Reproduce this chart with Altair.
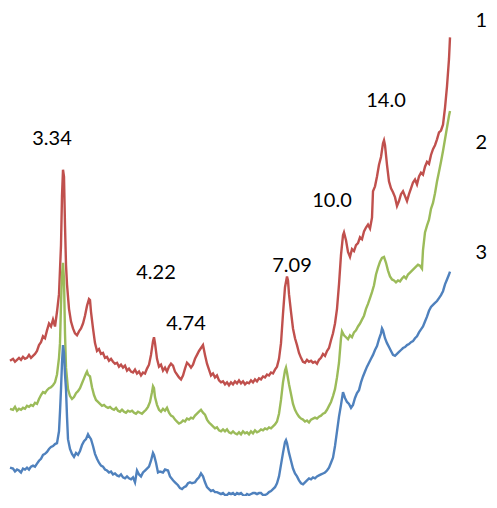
import altair as alt
import pandas as pd

# Pattern 1 (red)
red_x = [10, 13, 15, 17, 19, 21, 23, 25, 27, 29, 31, 33, 35, 37, 39, 41, 43, 45, 47, 49, 51, 53, 55, 57, 59, 61, 62, 63, 64, 65, 66, 67, 69, 71, 73, 75, 77, 79, 81, 83, 85, 87, 89, 90, 91, 93, 95, 97, 99, 101, 103, 105, 107, 109, 111, 113, 115, 117, 119, 121, 123, 125, 127, 129, 131, 133, 135, 137, 139, 141, 143, 145, 147, 149, 151, 153, 154, 155, 157, 159, 161, 163, 165, 167, 169, 171, 173, 175, 177, 179, 181, 183, 185, 187, 189, 191, 193, 195, 197, 199, 201, 203, 205, 207, 209, 211, 213, 215, 217, 219, 221, 223, 225, 227, 229, 231, 233, 235, 237, 239, 241, 243, 245, 247, 249, 251, 253, 255, 257, 259, 261, 263, 265, 267, 269, 271, 273, 275, 277, 279, 281, 283, 285, 287, 288, 289, 291, 293, 295, 297, 299, 301, 303, 305, 307, 309, 311, 313, 315, 317, 319, 321, 323, 325, 327, 329, 331, 333, 335, 337, 339, 341, 343, 344, 346, 348, 350, 352, 354, 356, 358, 360, 362, 364, 366, 368, 370, 372, 373, 375, 377, 379, 381, 383, 384, 385, 387, 389, 391, 393, 395, 397, 399, 401, 403, 405, 407, 409, 411, 413, 415, 417, 419, 421, 423, 425, 427, 429, 431, 433, 435, 437, 439, 441, 443, 445, 447, 449, 450]
red_y = [132, 134, 131, 133, 135, 133, 136, 134, 135, 138, 135, 137, 139, 142, 148, 151, 157, 155, 163, 170, 167, 174, 167, 182, 200, 250, 300, 327, 320, 270, 230, 210, 185, 172, 165, 160, 158, 162, 165, 170, 178, 188, 195, 194, 182, 165, 150, 142, 144, 139, 140, 135, 136, 132, 134, 131, 129, 130, 126, 128, 125, 127, 122, 124, 121, 120, 123, 119, 121, 117, 120, 119, 124, 128, 138, 152, 156, 150, 134, 126, 128, 122, 125, 121, 126, 129, 127, 121, 118, 115, 113, 117, 124, 130, 128, 125, 128, 134, 138, 142, 145, 148, 138, 129, 123, 117, 119, 115, 117, 112, 110, 111, 108, 110, 107, 110, 108, 111, 109, 112, 109, 111, 108, 110, 109, 112, 110, 113, 111, 114, 113, 116, 115, 118, 117, 120, 119, 123, 126, 134, 150, 180, 207, 218, 214, 200, 182, 165, 155, 148, 140, 135, 131, 130, 133, 131, 132, 130, 131, 129, 133, 135, 139, 137, 142, 145, 153, 160, 170, 185, 210, 240, 260, 263, 255, 243, 238, 246, 244, 250, 252, 258, 256, 264, 268, 271, 267, 278, 305, 310, 320, 332, 340, 354, 357, 352, 332, 315, 308, 304, 299, 290, 295, 302, 305, 300, 295, 302, 308, 314, 317, 312, 320, 324, 322, 330, 335, 333, 342, 348, 352, 358, 365, 367, 373, 390, 412, 440, 462]

# Pattern 2 (green)
green_x = [10, 13, 15, 17, 19, 21, 23, 25, 27, 29, 31, 33, 35, 37, 39, 41, 43, 45, 47, 49, 51, 53, 55, 57, 59, 60, 61, 62, 63, 64, 65, 66, 68, 70, 72, 74, 76, 78, 80, 82, 84, 86, 87, 88, 90, 92, 94, 96, 98, 100, 102, 104, 106, 108, 110, 112, 114, 116, 118, 120, 122, 124, 126, 128, 130, 132, 134, 136, 138, 140, 142, 144, 146, 148, 150, 152, 153, 154, 155, 157, 159, 161, 163, 165, 167, 169, 171, 173, 175, 177, 179, 181, 183, 185, 187, 189, 191, 193, 195, 197, 199, 201, 203, 205, 207, 209, 211, 213, 215, 217, 219, 221, 223, 225, 227, 229, 231, 233, 235, 237, 239, 241, 243, 245, 247, 249, 251, 253, 255, 257, 259, 261, 263, 265, 267, 269, 271, 273, 275, 277, 279, 281, 283, 285, 286, 287, 289, 291, 293, 295, 297, 299, 301, 303, 305, 307, 309, 311, 313, 315, 317, 319, 321, 323, 325, 327, 329, 331, 333, 335, 337, 339, 341, 342, 344, 346, 348, 350, 352, 354, 356, 358, 360, 362, 364, 366, 368, 370, 372, 374, 376, 378, 380, 382, 384, 386, 388, 390, 392, 394, 396, 398, 400, 402, 404, 406, 408, 410, 412, 414, 416, 418, 420, 422, 423, 425, 427, 429, 431, 433, 435, 437, 439, 441, 443, 445, 447, 449, 450]
green_y = [83, 82, 85, 81, 83, 82, 84, 83, 86, 85, 87, 86, 89, 88, 93, 97, 100, 99, 102, 104, 105, 107, 110, 118, 135, 150, 190, 220, 232, 215, 160, 125, 103, 96, 93, 95, 99, 101, 104, 109, 114, 119, 121, 118, 116, 105, 97, 92, 90, 88, 86, 87, 85, 84, 85, 83, 82, 84, 81, 80, 82, 80, 79, 81, 80, 81, 79, 78, 80, 79, 78, 80, 82, 85, 90, 100, 106, 104, 95, 87, 82, 80, 83, 81, 84, 79, 76, 75, 72, 70, 68, 69, 71, 70, 73, 72, 74, 73, 76, 78, 80, 82, 79, 77, 72, 69, 67, 65, 63, 64, 61, 60, 62, 60, 62, 59, 58, 60, 58, 57, 59, 57, 60, 58, 59, 57, 60, 58, 61, 59, 60, 62, 61, 63, 62, 64, 63, 65, 67, 70, 78, 92, 110, 122, 125, 120, 108, 98, 88, 82, 78, 75, 73, 72, 70, 71, 69, 72, 73, 74, 73, 75, 76, 78, 79, 82, 86, 90, 96, 103, 115, 130, 155, 162, 158, 156, 154, 158, 156, 161, 163, 167, 170, 174, 178, 185, 190, 196, 202, 209, 220, 227, 233, 237, 238, 232, 224, 218, 215, 214, 212, 214, 213, 216, 218, 216, 220, 222, 224, 226, 228, 230, 229, 226, 245, 263, 270, 276, 287, 293, 303, 315, 325, 335, 346, 358, 370, 382, 387]

# Pattern 3 (blue)
blue_x = [10, 13, 15, 17, 19, 21, 23, 25, 27, 29, 31, 33, 35, 37, 39, 41, 43, 45, 47, 49, 51, 53, 55, 57, 59, 60, 61, 62, 63, 64, 65, 66, 67, 68, 70, 72, 74, 76, 78, 80, 82, 84, 86, 88, 89, 91, 93, 95, 97, 99, 101, 103, 105, 107, 109, 111, 113, 115, 117, 119, 121, 123, 125, 127, 129, 131, 133, 135, 137, 139, 141, 143, 145, 147, 149, 151, 153, 154, 156, 158, 160, 163, 165, 168, 170, 173, 175, 178, 180, 182, 184, 186, 188, 190, 192, 195, 197, 199, 201, 203, 205, 207, 209, 211, 213, 215, 217, 219, 221, 223, 225, 227, 229, 231, 233, 235, 237, 239, 241, 243, 245, 247, 249, 251, 253, 255, 257, 259, 261, 263, 265, 267, 269, 271, 273, 275, 277, 279, 281, 283, 285, 286, 287, 289, 291, 293, 295, 297, 299, 301, 303, 305, 307, 309, 311, 313, 315, 317, 319, 321, 323, 325, 327, 329, 331, 333, 335, 337, 339, 341, 343, 345, 347, 349, 351, 353, 355, 357, 359, 361, 363, 365, 367, 369, 371, 373, 375, 377, 379, 381, 382, 383, 385, 387, 389, 391, 393, 395, 397, 399, 401, 403, 405, 407, 409, 411, 413, 415, 417, 419, 421, 423, 425, 427, 429, 431, 433, 435, 437, 439, 441, 443, 445, 447, 449, 450]
blue_y = [23, 22, 19, 21, 20, 18, 22, 21, 23, 21, 24, 25, 24, 27, 30, 32, 36, 37, 39, 42, 44, 45, 47, 48, 60, 80, 103, 130, 148, 140, 118, 103, 75, 52, 42, 37, 34, 38, 36, 40, 46, 50, 52, 57, 55, 52, 45, 37, 32, 28, 25, 24, 21, 20, 18, 19, 16, 17, 15, 14, 16, 13, 12, 14, 12, 11, 13, 8, 20, 16, 14, 18, 20, 22, 24, 30, 38, 36, 28, 18, 19, 18, 21, 20, 14, 10, 8, 5, 2, 1, 3, 4, 7, 8, 7, 8, 11, 13, 17, 14, 8, 3, 1, -1, 0, -2, -2, -3, -4, -3, -5, -5, -3, -4, -3, -5, -3, -4, -3, -5, -6, -4, -5, -4, -3, -3, -4, -3, -3, -5, -5, -4, -2, -1, 1, 3, 7, 14, 26, 38, 49, 51, 48, 38, 30, 22, 17, 14, 10, 7, 6, 8, 10, 12, 11, 13, 12, 14, 15, 16, 17, 18, 20, 23, 28, 33, 45, 60, 75, 87, 100, 94, 90, 88, 84, 87, 94, 99, 102, 110, 116, 121, 126, 130, 134, 138, 143, 147, 154, 160, 165, 163, 155, 150, 146, 142, 138, 137, 139, 141, 143, 145, 146, 148, 149, 151, 152, 155, 157, 161, 164, 167, 172, 177, 183, 187, 189, 191, 193, 196, 199, 203, 210, 215, 220, 223]

# Peak annotations (d-spacings) and pattern numbers
peak_labels = ["3.34", "4.22", "4.74", "7.09", "10.0", "14.0"]
peak_x = [52, 156, 186, 292, 332, 386]
peak_y = [358, 222, 170, 229, 295, 397]

series_labels = ["1", "2", "3"]
series_lx = [487, 487, 487]
series_ly = [479, 354, 242]

rows = []
for name, xs, ys in [("1", red_x, red_y), ("2", green_x, green_y), ("3", blue_x, blue_y)]:
    for i, (a, b) in enumerate(zip(xs, ys)):
        rows.append({"series": name, "x": a, "y": b, "order": i})
df = pd.DataFrame(rows)

peaks = pd.DataFrame({"label": peak_labels, "x": peak_x, "y": peak_y})
nums = pd.DataFrame({"label": series_labels, "x": series_lx, "y": series_ly})

xs = alt.Scale(domain=[8, 489])
ys = alt.Scale(domain=[-6, 492])

lines = alt.Chart(df).mark_line(strokeWidth=2.4, clip=False).encode(
    x=alt.X("x:Q", scale=xs, axis=None),
    y=alt.Y("y:Q", scale=ys, axis=None),
    color=alt.Color("series:N",
                    scale=alt.Scale(domain=["1", "2", "3"],
                                    range=["#C0504D", "#9BBB59", "#4F81BD"]),
                    legend=None),
    order="order:Q",
)

peak_text = alt.Chart(peaks).mark_text(font="Lato", fontSize=20, color="#000000",
                                       align="center", baseline="middle").encode(
    x=alt.X("x:Q", scale=xs, axis=None),
    y=alt.Y("y:Q", scale=ys, axis=None),
    text="label:N",
)

num_text = alt.Chart(nums).mark_text(font="Lato", fontSize=20, color="#000000",
                                     align="right", baseline="middle").encode(
    x=alt.X("x:Q", scale=xs, axis=None),
    y=alt.Y("y:Q", scale=ys, axis=None),
    text="label:N",
)

chart = alt.layer(lines, peak_text, num_text).properties(
    width=481, height=488,
    padding=0,
    background="#FFFFFF",
    autosize=alt.AutoSizeParams(type="none"),
).configure_view(strokeWidth=0, stroke="transparent")

chart.save("out.html", embed_options={"renderer": "svg", "actions": False})
